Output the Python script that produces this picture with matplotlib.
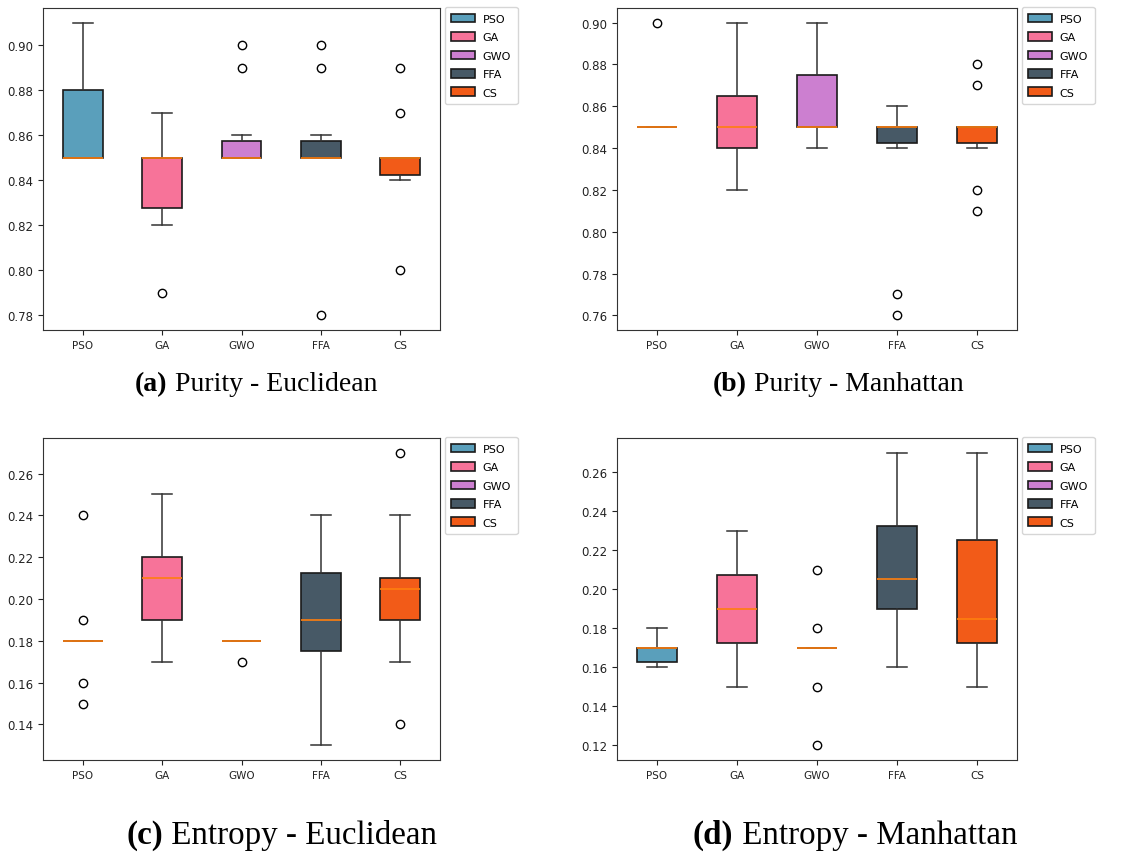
import matplotlib
matplotlib.use("Agg")
import matplotlib.pyplot as plt

# ----------------- Data -----------------
algos = ["PSO", "GA", "GWO", "FFA", "CS"]
colors = ["#5a9fbb", "#f77399", "#cc7fd0", "#475966", "#f25b18"]

# purity - euclidean
pe_q1 = [0.85, 0.8275, 0.85, 0.85, 0.8425]
pe_med = [0.85, 0.85, 0.85, 0.85, 0.85]
pe_q3 = [0.88, 0.85, 0.8575, 0.8575, 0.85]
pe_lo = [0.85, 0.82, 0.85, 0.85, 0.84]
pe_hi = [0.91, 0.87, 0.86, 0.86, 0.85]
pe_fliers = [[], [0.79], [0.89, 0.90], [0.78, 0.89, 0.90], [0.80, 0.87, 0.89]]

# purity - manhattan
pm_q1 = [0.85, 0.84, 0.85, 0.8425, 0.8425]
pm_med = [0.85, 0.85, 0.85, 0.85, 0.85]
pm_q3 = [0.85, 0.865, 0.875, 0.85, 0.85]
pm_lo = [0.85, 0.82, 0.84, 0.84, 0.84]
pm_hi = [0.85, 0.90, 0.90, 0.86, 0.85]
pm_fliers = [[0.90], [], [], [0.76, 0.77], [0.81, 0.82, 0.87, 0.88]]

# entropy - euclidean
ee_q1 = [0.18, 0.19, 0.18, 0.175, 0.19]
ee_med = [0.18, 0.21, 0.18, 0.19, 0.205]
ee_q3 = [0.18, 0.22, 0.18, 0.2125, 0.21]
ee_lo = [0.18, 0.17, 0.18, 0.13, 0.17]
ee_hi = [0.18, 0.25, 0.18, 0.24, 0.24]
ee_fliers = [[0.15, 0.16, 0.19, 0.24], [], [0.17], [], [0.14, 0.27]]

# entropy - manhattan
em_q1 = [0.1625, 0.1725, 0.17, 0.19, 0.1725]
em_med = [0.17, 0.19, 0.17, 0.205, 0.185]
em_q3 = [0.17, 0.2075, 0.17, 0.2325, 0.225]
em_lo = [0.16, 0.15, 0.17, 0.16, 0.15]
em_hi = [0.18, 0.23, 0.17, 0.27, 0.27]
em_fliers = [[], [], [0.12, 0.15, 0.18, 0.21], [], []]

captions = [("(a)", "Purity - Euclidean"), ("(b)", "Purity - Manhattan"),
            ("(c)", "Entropy - Euclidean"), ("(d)", "Entropy - Manhattan")]

panels = [
    (pe_q1, pe_med, pe_q3, pe_lo, pe_hi, pe_fliers),
    (pm_q1, pm_med, pm_q3, pm_lo, pm_hi, pm_fliers),
    (ee_q1, ee_med, ee_q3, ee_lo, ee_hi, ee_fliers),
    (em_q1, em_med, em_q3, em_lo, em_hi, em_fliers),
]

# ----------------- Layout -----------------
W, H = 1129, 853
fig = plt.figure(figsize=(W / 100, H / 100), dpi=100)

# axes boxes in pixels: left, top, right, bottom
boxes_px = [(43, 9, 440, 331), (617, 9, 1017, 331),
            (43, 439, 440, 761), (617, 439, 1017, 761)]
# caption start x, baseline y, font size
cap_pos = [(135, 391, 20), (713, 391, 20), (126, 844, 23.8), (693, 844, 23.8)]


def make_stats(q1, med, q3, lo, hi, fl):
    stats = []
    for i in range(len(algos)):
        stats.append(dict(label=algos[i], q1=q1[i], med=med[i], q3=q3[i],
                          whislo=lo[i], whishi=hi[i], fliers=fl[i]))
    return stats


for k, data in enumerate(panels):
    l, t, r, b = boxes_px[k]
    ax = fig.add_axes([l / W, 1 - b / H, (r - l) / W, (b - t) / H])
    bp = ax.bxp(make_stats(*data), patch_artist=True, widths=0.5,
                boxprops=dict(edgecolor="#1a1a1a", linewidth=1.2),
                whiskerprops=dict(color="#333333", linewidth=1.1),
                capprops=dict(color="#333333", linewidth=1.1),
                medianprops=dict(color="#ff7f0e", linewidth=1.2),
                flierprops=dict(marker="o", markerfacecolor="none",
                                markeredgecolor="black", markersize=6))
    for patch, c in zip(bp["boxes"], colors):
        patch.set_facecolor(c)
    ax.tick_params(labelsize=8.5, colors="#222222")
    ax.tick_params(axis="x", labelsize=7.5)
    for s in ax.spines.values():
        s.set_color("#333333")
    ax.legend(bp["boxes"], algos, loc="upper left", bbox_to_anchor=(1.012, 1.003),
              borderaxespad=0, fontsize=8, handlelength=2.1, labelspacing=0.75,
              handletextpad=0.7, borderpad=0.6, handleheight=0.8)

    # caption: bold label + regular text
    cx, cy, fs = cap_pos[k]
    t1 = fig.text(cx / W, 1 - cy / H, captions[k][0], fontsize=fs,
                  family="Liberation Serif", weight="bold", va="baseline")
    ax.annotate(" " + captions[k][1], xy=(1, 0), xycoords=t1, va="bottom",
                fontsize=fs, family="Liberation Serif", annotation_clip=False)

fig.savefig("out.png", dpi=100)
